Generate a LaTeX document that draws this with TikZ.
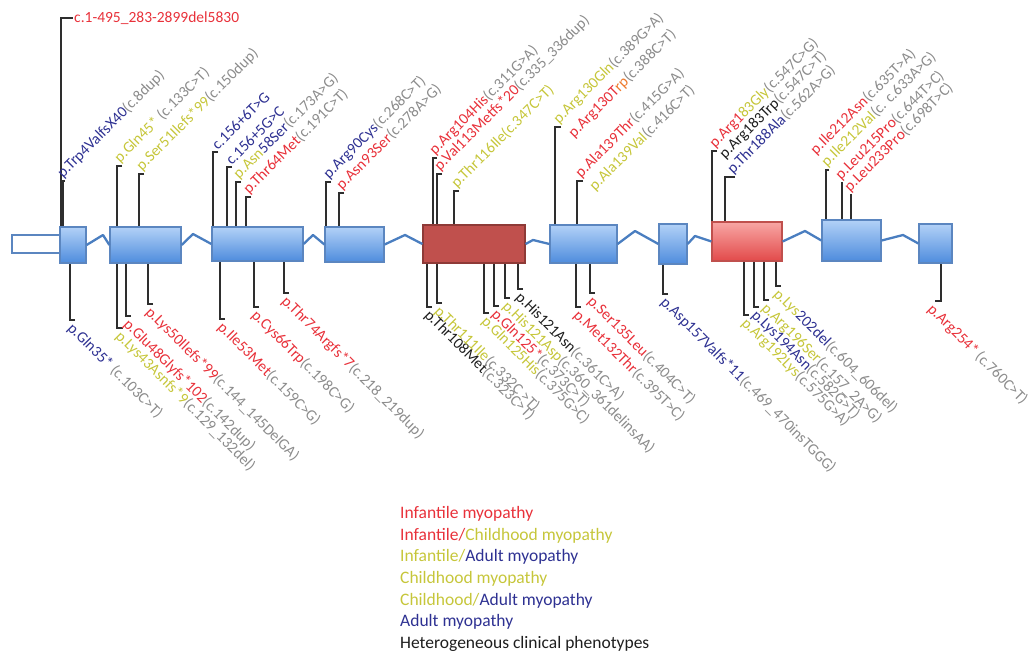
\documentclass[tikz,border=0pt]{standalone}
\usepackage{fontspec}
\setmainfont{Carlito}
\usepackage{tikz}
\usetikzlibrary{positioning, calc}
\definecolor{exonline}{HTML}{5B86C0}
\definecolor{exontop}{HTML}{B2D1F7}
\definecolor{exonbot}{HTML}{4E8CDD}
\definecolor{introncol}{HTML}{4A7EC0}
\definecolor{darkexon}{HTML}{C0504D}
\definecolor{darkline}{HTML}{8E3A37}
\definecolor{hottop}{HTML}{F8A6A4}
\definecolor{hotbot}{HTML}{E24A4A}
\definecolor{leadcol}{HTML}{2E2E2E}
\definecolor{mutred}{HTML}{E8313A}
\definecolor{mutyel}{HTML}{C6C63A}
\definecolor{mutblue}{HTML}{2E3192}
\definecolor{mutgray}{HTML}{8C8C8C}
\definecolor{mutblack}{HTML}{1E1E1E}
\definecolor{mutorange}{HTML}{EE7A2E}
\newcommand{\mR}[1]{\textcolor{mutred}{#1}}
\newcommand{\mY}[1]{\textcolor{mutyel}{#1}}
\newcommand{\mB}[1]{\textcolor{mutblue}{#1}}
\newcommand{\mG}[1]{\textcolor{mutgray}{#1}}
\newcommand{\mK}[1]{\textcolor{mutblack}{#1}}
\newcommand{\mO}[1]{\textcolor{mutorange}{#1}}

\begin{document}
\begin{tikzpicture}[x=1pt, y=-1pt,
  every node/.style={font=\fontsize{15.5}{18}\selectfont},
  exon/.style={draw=exonline, line width=1.2pt, top color=exontop, bottom color=exonbot, inner sep=0pt},
  utr/.style={draw=exonline, line width=2pt, fill=white, inner sep=0pt},
  dark/.style={draw=darkline, line width=1.2pt, fill=darkexon, inner sep=0pt},
  hot/.style={draw=darkexon, line width=1.2pt, top color=hottop, bottom color=hotbot, inner sep=0pt},
  intron/.style={draw=introncol, line width=2.3pt, line join=round},
  lead/.style={draw=leadcol, line width=1.3pt},
  up/.style={rotate=45, anchor=south west, inner sep=0.5pt},
  down/.style={rotate=-45, anchor=north west, inner sep=0.5pt},
  legend/.style={anchor=north west, align=left, inner sep=0pt, font=\fontsize{17.5}{21.7}\selectfont}
]
  \useasboundingbox (0,0) rectangle (1031,653);

  % gene structure
  \node[utr, minimum width=48pt, minimum height=18pt] (utr) at (36,244) {};
  \node[exon, minimum width=26pt, minimum height=36pt] (e1) at (73,245) {};
  \node[exon, minimum width=71pt, minimum height=36pt] (e2) at (145.5,245) {};
  \node[exon, minimum width=91pt, minimum height=34pt] (e3) at (257.5,244) {};
  \node[exon, minimum width=59pt, minimum height=35pt] (e4) at (354.5,244.5) {};
  \node[dark, minimum width=102pt, minimum height=38pt] (e5) at (474,244) {};
  \node[exon, minimum width=67pt, minimum height=38pt] (e6) at (583.5,244) {};
  \node[exon, minimum width=28pt, minimum height=40pt] (e7) at (673,244) {};
  \node[hot, minimum width=70pt, minimum height=39pt] (e8) at (747,241.5) {};
  \node[exon, minimum width=59pt, minimum height=41pt] (e9) at (851.5,240.5) {};
  \node[exon, minimum width=33pt, minimum height=39pt] (e10) at (935.5,243.5) {};

  \draw[intron] (e1.east) -- (103,235) -- (e2.west);
  \draw[intron] (e2.east) -- (193,234) -- (e3.west);
  \draw[intron] (e3.east) -- (313,235) -- (e4.west);
  \draw[intron] (e4.east) -- (405,235) -- (e5.west);
  \draw[intron] (e5.east) -- (533,240) -- (e6.west);
  \draw[intron] (e6.east) -- (635,231) -- (e7.west);
  \draw[intron] (e7.east) -- (695,236) -- (e8.west);
  \draw[intron] (e8.east) -- (805,231) -- (e9.west);
  \draw[intron] (e9.east) -- (903,235) -- (e10.west);

  % variants above the gene
  \node[anchor=west, inner sep=1pt] (t0) at (73,18) {\mR{c.1-495\_283-2899del5830}};
  \draw[lead] (t0.west) -- ++(-12,0) coordinate (k) -- (k |- e1.north);
  \node[up] (t1) at (65,181) {\mB{p.Trp4ValfsX40}\mG{(c.8dup)}};
  \draw[lead] (t1.south west) -- ++(-2,0) coordinate (k) -- (k |- e1.north);
  \node[up] (t2) at (122,166) {\mY{p.Gln45*} \mG{(c.133C>T)}};
  \draw[lead] (t2.south west) -- ++(-5,0) coordinate (k) -- (k |- e2.north);
  \node[up] (t3) at (144,174) {\mY{p.Ser51Ilefs*99}\mG{(c.150dup)}};
  \draw[lead] (t3.south west) -- ++(-5,0) coordinate (k) -- (k |- e2.north);
  \node[up] (t4) at (218,152) {\mB{c.156+6T>G}};
  \draw[lead] (t4.south west) -- ++(-5,0) coordinate (k) -- (k |- e3.north);
  \node[up] (t5) at (232,167) {\mB{c.156+5G>C}};
  \draw[lead] (t5.south west) -- ++(-5,0) coordinate (k) -- (k |- e3.north);
  \node[up] (t6) at (241,182) {\mY{p.Asn}\mB{58Ser}\mG{(c.173A>G)}};
  \draw[lead] (t6.south west) -- ++(-5,0) coordinate (k) -- (k |- e3.north);
  \node[up] (t7) at (251,197) {\mR{p.Thr64Met}\mG{(c.191C>T)}};
  \draw[lead] (t7.south west) -- ++(-5,0) coordinate (k) -- (k |- e3.north);
  \node[up] (t8) at (331,182) {\mB{p.Arg90Cys}\mG{(c.268C>T)}};
  \draw[lead] (t8.south west) -- ++(-5,0) coordinate (k) -- (k |- e4.north);
  \node[up] (t9) at (344,193) {\mR{p.Asn93Ser}\mG{(c.278A>G)}};
  \draw[lead] (t9.south west) -- ++(-5,0) coordinate (k) -- (k |- e4.north);
  \node[up] (t10) at (437,158) {\mR{p.Arg104His}\mG{(c.311G>A)}};
  \draw[lead] (t10.south west) -- ++(-4,0) coordinate (k) -- (k |- e5.north);
  \node[up] (t11) at (442,174) {\mR{p.Val113Metfs*20}\mG{(c.335\_336dup)}};
  \draw[lead] (t11.south west) -- ++(-5,0) coordinate (k) -- (k |- e5.north);
  \node[up] (t12) at (459,191) {\mY{p.Thr116Ile(c.347C>T)}};
  \draw[lead] (t12.south west) -- ++(-5,0) coordinate (k) -- (k |- e5.north);
  \node[up] (t13) at (561,127) {\mY{p.Arg130Gln}\mG{(c.389G>A)}};
  \draw[lead] (t13.south west) -- ++(-6,0) coordinate (k) -- (k |- e6.north);
  \node[up] (t13b) at ([shift={(15,14)}]t13.south west) {\mR{p.Arg130T}\mO{rp}\mG{(c.388C>T)}};
  \node[up] (t14) at (583,181) {\mR{p.Ala139Thr}\mG{(c.415G>A)}};
  \draw[lead] (t14.south west) -- ++(-6,0) coordinate (k) -- (k |- e6.north);
  \node[up] (t14b) at ([shift={(14,13)}]t14.south west) {\mY{p.Ala139Val}\mG{(c.416C>T)}};
  \node[up] (t15) at (717,151) {\mR{p.Arg1}\mY{83Gly}\mG{(c.547C>G)}};
  \draw[lead] (t15.south west) -- ++(-5,0) coordinate (k) -- (k |- e8.north);
  \node[up] (t15b) at ([shift={(10,11)}]t15.south west) {\mK{p.Arg183Trp}\mG{(c.547C>T)}};
  \node[up] (t16) at (735,177) {\mB{p.Thr188Ala}\mG{(c.562A>G)}};
  \draw[lead] (t16.south west) -- ++(-10,0) coordinate (k) -- (k |- e8.north);
  \node[up] (t17) at (829,170) {\mY{p.Ile212Val}\mG{(c. c.633A>G)}};
  \draw[lead] (t17.south west) -- ++(-3,0) coordinate (k) -- (k |- e9.north);
  \node[up] (t17a) at ([shift={(-11,-12)}]t17.south west) {\mR{p.Ile212Asn}\mG{(c.635T>A)}};
  \node[up] (t18) at (843,183) {\mR{p.Leu215Pro}\mG{(c.644T>C)}};
  \draw[lead] (t18.south west) -- ++(-1,0) coordinate (k) -- (k |- e9.north);
  \node[up] (t19) at (852,195) {\mR{p.Leu233Pro}\mG{(c.698T>C)}};
  \draw[lead] (t19.south west) -- ++(-1,0) coordinate (k) -- (k |- e9.north);

  % variants below the gene
  \node[down] (b1) at (75,320) {\mB{p.Gln35*} \mG{(c.103C>T)}};
  \draw[lead] (b1.north west) -- ++(-5,0) coordinate (k) -- (k |- e1.south);
  \node[down] (b2) at (123,328) {\mY{p.Lys43Asnfs*9}\mG{(c.129\_132del)}};
  \draw[lead] (b2.north west) -- ++(-6,0) coordinate (k) -- (k |- e2.south);
  \node[down] (b3) at (131,316) {\mR{p.Glu48Glyfs*102}\mG{(c.142dup)}};
  \draw[lead] (b3.north west) -- ++(-5,0) coordinate (k) -- (k |- e2.south);
  \node[down] (b4) at (153,304) {\mR{p.Lys50Ilefs*99}\mG{(c.144\_145DelGA)}};
  \draw[lead] (b4.north west) -- ++(-5,0) coordinate (k) -- (k |- e2.south);
  \node[down] (b5) at (225,319) {\mR{p.Ile53Met}\mG{(c.159C>G)}};
  \draw[lead] (b5.north west) -- ++(-5,0) coordinate (k) -- (k |- e3.south);
  \node[down] (b6) at (259,307) {\mR{p.Cys66Trp}\mG{(c.198C>G)}};
  \draw[lead] (b6.north west) -- ++(-5,0) coordinate (k) -- (k |- e3.south);
  \node[down] (b7) at (289,293) {\mR{p.Thr74Argfs*7}\mG{(c.218\_219dup)}};
  \draw[lead] (b7.north west) -- ++(-5,0) coordinate (k) -- (k |- e3.south);
  \node[down] (b8) at (432,307) {\mK{p.Thr108Met}\mG{(c.323C>T)}};
  \draw[lead] (b8.north west) -- ++(-5,0) coordinate (k) -- (k |- e5.south);
  \node[down] (b9) at (442,303) {\mY{p.Thr111Ile}\mG{(c.332C >T)}};
  \draw[lead] (b9.north west) -- ++(-5,0) coordinate (k) -- (k |- e5.south);
  \node[down] (b10) at (489,313) {\mY{p.Gln125His}\mG{(c.375G>C)}};
  \draw[lead] (b10.north west) -- ++(-5,0) coordinate (k) -- (k |- e5.south);
  \node[down] (b11) at (499,306) {\mR{p.Gln125*}\mG{(c.373C>T)}};
  \draw[lead] (b11.north west) -- ++(-5,0) coordinate (k) -- (k |- e5.south);
  \node[down] (b12) at (510,298) {\mY{p.His121Asp}\mG{(c.360\_361delinsAA)}};
  \draw[lead] (b12.north west) -- ++(-5,0) coordinate (k) -- (k |- e5.south);
  \node[down] (b13) at (523,289) {\mK{p.His121Asn}\mG{(c.361C>A)}};
  \draw[lead] (b13.north west) -- ++(-5,0) coordinate (k) -- (k |- e5.south);
  \node[down] (b14) at (581,307) {\mR{p.Met132Thr}\mG{(c.395T>C)}};
  \draw[lead] (b14.north west) -- ++(-5,0) coordinate (k) -- (k |- e6.south);
  \node[down] (b15) at (595,293) {\mR{p.Ser135Leu}\mG{(c.404C>T)}};
  \draw[lead] (b15.north west) -- ++(-5,0) coordinate (k) -- (k |- e6.south);
  \node[down] (b16) at (668,294) {\mB{p.Asp157Valfs*11}\mG{(c.469\_470insTGGG)}};
  \draw[lead] (b16.north west) -- ++(-5,0) coordinate (k) -- (k |- e7.south);
  \node[down] (b17) at (749,315) {\mY{p.Arg192Lys}\mG{(c.575G>A)}};
  \draw[lead] (b17.north west) -- ++(-5,0) coordinate (k) -- (k |- e8.south);
  \node[down] (b18) at (759,307) {\mB{p.Lys194Asn}\mG{(c.582G>T)}};
  \draw[lead] (b18.north west) -- ++(-5,0) coordinate (k) -- (k |- e8.south);
  \node[down] (b19) at (769,300) {\mY{p.Arg196Ser}\mG{(c.157\_2A>G)}};
  \draw[lead] (b19.north west) -- ++(-5,0) coordinate (k) -- (k |- e8.south);
  \node[down] (b20) at (781,286) {\mY{p.Lys}\mB{202del}\mG{(c.604\_606del)}};
  \draw[lead] (b20.north west) -- ++(-5,0) coordinate (k) -- (k |- e8.south);
  \node[down] (b21) at (935,301) {\mR{p.Arg254*}\,\mG{(c.760C>T)}};
  \draw[lead] (b21.north west) -- ++(6,0) coordinate (k) -- (k |- e10.south);

  % phenotype key
  \node[legend] (key) at (400,506) {\mR{Infantile myopathy}\\
    \mR{Infantile/}\mY{Childhood myopathy}\\
    \mY{Infantile/}\mB{Adult myopathy}\\
    \mY{Childhood myopathy}\\
    \mY{Childhood/}\mB{Adult myopathy}\\
    \mB{Adult myopathy}\\
    \mK{Heterogeneous clinical phenotypes}};
\end{tikzpicture}
\end{document}
